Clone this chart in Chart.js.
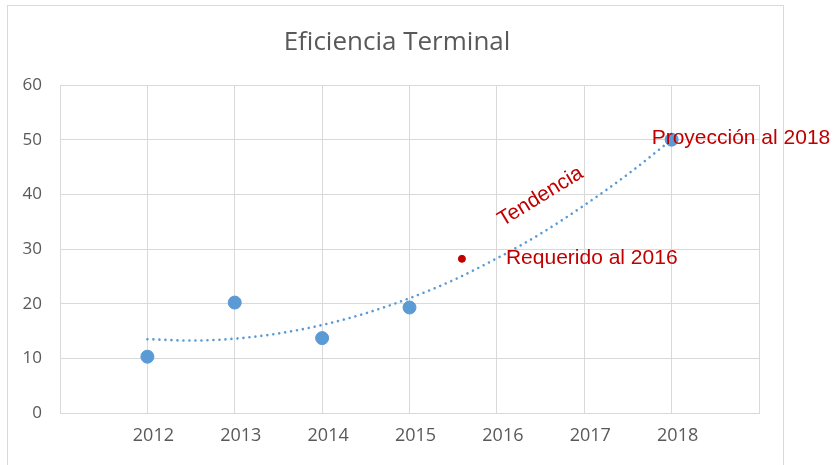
<!DOCTYPE html>
<html>
<head>
<meta charset="utf-8">
<script src="https://cdn.jsdelivr.net/npm/chart.js@4.4.1/dist/chart.umd.min.js"></script>
<style>
  html, body { margin: 0; padding: 0; background: #ffffff; }
  #wrap { width: 835px; height: 465px; position: relative; }
</style>
</head>
<body>
<div id="wrap"><canvas id="c" width="835" height="465"></canvas></div>
<script>
// ---- data ----
const chartTitle = "Eficiencia Terminal";
const years = [2012, 2013, 2014, 2015, 2018];
const efficiency = [10.3, 20.2, 13.7, 19.3, 50.0];
const requiredYear = [2015.6];
const requiredValue = [28.2];
const trendYears = [2012, 2012.5, 2013, 2013.5, 2014, 2014.5, 2015, 2015.5, 2016, 2016.5, 2017, 2017.5, 2018];
const trendValues = [13.5, 13.25, 13.6, 14.55, 16.1, 18.25, 21.0, 24.3, 28.3, 32.8, 38.0, 43.7, 50.0];
const xMin = 2011, xMax = 2019;
const yTicks = [0, 10, 20, 30, 40, 50, 60];
const labelProjection = "Proyección al 2018";
const labelRequired = "Requerido al 2016";
const labelTrend = "Tendencia";

const toXY = (xs, ys) => xs.map((x, i) => ({ x: x, y: ys[i] }));

const framePlugin = {
  id: 'frame',
  beforeDraw(chart) {
    const ctx = chart.ctx;
    ctx.save();
    ctx.fillStyle = '#ffffff';
    ctx.fillRect(0, 0, chart.width, chart.height);
    ctx.strokeStyle = '#D9D9D9';
    ctx.lineWidth = 1;
    ctx.strokeRect(7.5, 5.5, 776, 480);
    // chart title
    ctx.fillStyle = '#595959';
    ctx.font = '26px "Open Sans", sans-serif';
    ctx.textAlign = 'center';
    ctx.textBaseline = 'middle';
    ctx.fillText(chartTitle, 397, 43);
    ctx.restore();
  }
};

const notesPlugin = {
  id: 'notes',
  afterDatasetsDraw(chart) {
    const ctx = chart.ctx;
    const xs = chart.scales.x, ys = chart.scales.y;
    ctx.save();
    ctx.fillStyle = '#C00000';
    ctx.font = '21px "Liberation Sans", Arial, sans-serif';
    ctx.textBaseline = 'middle';
    ctx.textAlign = 'left';
    // projection label, over the 2018 point
    ctx.fillText(labelProjection, xs.getPixelForValue(years[4]) - 20, ys.getPixelForValue(efficiency[4]) - 1);
    // required label, right of the red dot
    ctx.fillText(labelRequired, xs.getPixelForValue(requiredYear[0]) + 44, ys.getPixelForValue(requiredValue[0]) - 1);
    // trend label, rotated along the curve
    ctx.save();
    ctx.translate(xs.getPixelForValue(2016.5), ys.getPixelForValue(39.6));
    ctx.rotate(-31.5 * Math.PI / 180);
    ctx.textAlign = 'center';
    ctx.fillText(labelTrend, 0, 0);
    ctx.restore();
    ctx.restore();
  }
};

const chart = new Chart(document.getElementById('c'), {
  type: 'scatter',
  data: {
    datasets: [
      {
        label: 'Eficiencia',
        data: toXY(years, efficiency),
        backgroundColor: '#5B9BD5',
        borderColor: '#5B9BD5',
        pointRadius: 6.5,
        pointHoverRadius: 6.5,
        order: 2
      },
      {
        label: 'Requerido',
        data: toXY(requiredYear, requiredValue),
        backgroundColor: '#C00000',
        borderColor: '#C00000',
        pointRadius: 3.5,
        pointHoverRadius: 3.5,
        order: 1
      },
      {
        label: 'Tendencia',
        type: 'line',
        data: toXY(trendYears, trendValues),
        borderColor: '#5B9BD5',
        borderWidth: 2.6,
        borderDash: [0.01, 6],
        borderCapStyle: 'round',
        pointRadius: 0,
        fill: false,
        tension: 0.4,
        cubicInterpolationMode: 'monotone',
        order: 3
      }
    ]
  },
  options: {
    responsive: false,
    animation: false,
    events: [],
    layout: { padding: { left: 0, right: 76, top: 85, bottom: 0 } },
    plugins: {
      legend: { display: false },
      tooltip: { enabled: false },
      title: { display: false }
    },
    scales: {
      x: {
        type: 'linear',
        min: xMin,
        max: xMax,
        afterFit(scale) { scale.height = 52; },
        afterBuildTicks(scale) {
          const t = [];
          for (let v = xMin; v <= xMax; v++) t.push({ value: v });
          scale.ticks = t;
        },
        ticks: {
          color: '#595959',
          font: { family: '"Open Sans", sans-serif', size: 18 },
          padding: 12,
          labelOffset: 6,
          maxRotation: 0,
          autoSkip: false,
          callback: (v) => (v > xMin && v < xMax) ? String(v) : ''
        },
        grid: { color: '#D9D9D9', lineWidth: 1, drawTicks: false },
        border: { display: true, color: '#D9D9D9' }
      },
      y: {
        min: yTicks[0],
        max: yTicks[yTicks.length - 1],
        afterFit(scale) { scale.width = 60; },
        afterBuildTicks(scale) { scale.ticks = yTicks.map(v => ({ value: v })); },
        ticks: {
          color: '#595959',
          font: { family: '"Open Sans", sans-serif', size: 17 },
          padding: 18
        },
        grid: { color: '#D9D9D9', lineWidth: 1, drawTicks: false },
        border: { display: true, color: '#D9D9D9' }
      }
    }
  },
  plugins: [framePlugin, notesPlugin]
});
</script>
</body>
</html>
